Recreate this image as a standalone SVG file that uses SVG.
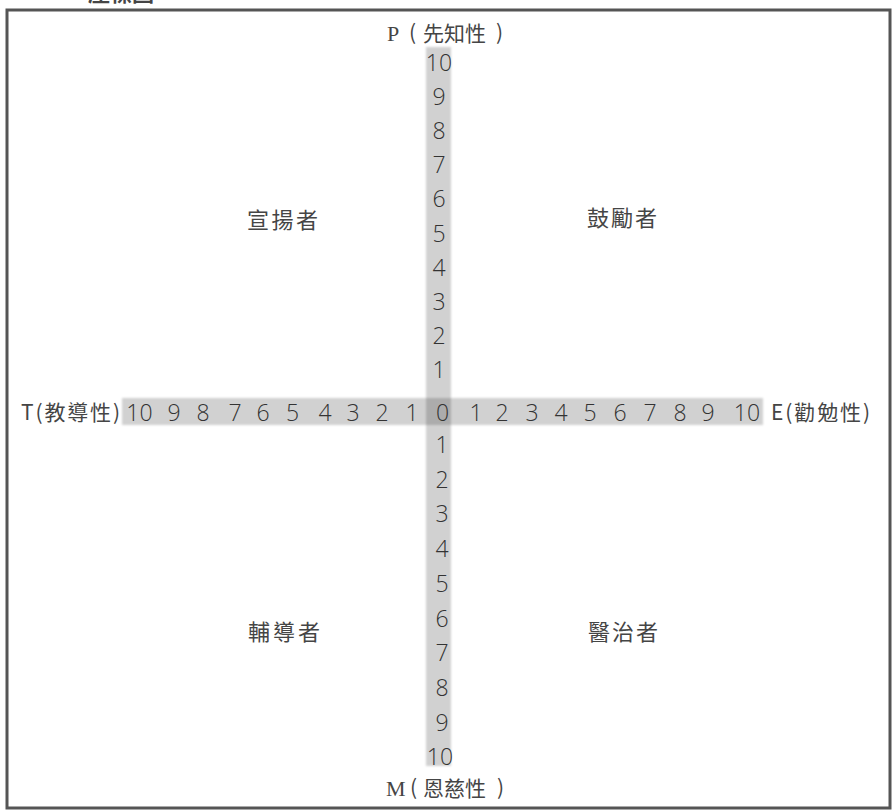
<svg xmlns="http://www.w3.org/2000/svg" width="895" height="811" viewBox="0 0 895 811">
<style>
.cjk{font-family:"Noto Sans CJK TC","Noto Sans CJK SC",sans-serif;fill:#454545;}
.ser{font-family:"Liberation Serif",serif;fill:#454545;}
.num{font-family:"Open Sans","Noto Sans",sans-serif;font-weight:300;font-size:23px;fill:#333;}
.v{text-anchor:middle;}
.lbl{font-size:22px;}
.band{fill:#000;fill-opacity:0.18;}
</style>
<defs>
<filter id="soft" x="-10%" y="-10%" width="120%" height="120%"><feGaussianBlur stdDeviation="1.2"/></filter>
</defs>
<rect width="895" height="811" fill="#fff"/>
<text class="cjk" x="88" y="1" font-size="22" font-weight="bold">座標圖</text>
<rect x="7" y="10" width="883" height="798" fill="none" stroke="#555" stroke-width="3"/>
<g id="bands" filter="url(#soft)">
<rect class="band" x="426" y="47" width="25" height="719"/>
<rect class="band" x="122" y="398" width="641" height="27"/>
</g>
<g id="axis-p">
<text class="ser" x="387" y="41" font-size="22">P</text>
<text class="cjk" x="409" y="40" font-size="21">(</text>
<text class="cjk" x="423" y="41" font-size="21">先知性</text>
<text class="cjk" x="496" y="40" font-size="21">)</text>
</g>
<g id="axis-m">
<text class="ser" x="386" y="796" font-size="22">M</text>
<text class="cjk" x="410" y="795" font-size="21">(</text>
<text class="cjk" x="423" y="796" font-size="21">恩慈性</text>
<text class="cjk" x="497" y="795" font-size="21">)</text>
</g>
<g id="axis-t"><text class="cjk" x="21" y="420" font-size="21" textLength="99" lengthAdjust="spacing">T(教導性)</text></g>
<g id="axis-e"><text class="cjk" x="771" y="420" font-size="21" textLength="99" lengthAdjust="spacing">E(勸勉性)</text></g>
<g id="vertical-numbers">
<text class="num v" x="439" y="71">10</text>
<text class="num v" x="439" y="105">9</text>
<text class="num v" x="439" y="139">8</text>
<text class="num v" x="439" y="173">7</text>
<text class="num v" x="439" y="207">6</text>
<text class="num v" x="439" y="242">5</text>
<text class="num v" x="439" y="276">4</text>
<text class="num v" x="439" y="310">3</text>
<text class="num v" x="439" y="344">2</text>
<text class="num v" x="439" y="378">1</text>
<text class="num v" x="442" y="453">1</text>
<text class="num v" x="442" y="488">2</text>
<text class="num v" x="442" y="522">3</text>
<text class="num v" x="442" y="557">4</text>
<text class="num v" x="442" y="592">5</text>
<text class="num v" x="442" y="627">6</text>
<text class="num v" x="442" y="661">7</text>
<text class="num v" x="442" y="696">8</text>
<text class="num v" x="442" y="731">9</text>
<text class="num v" x="440" y="765">10</text>
</g>
<g id="horizontal-numbers">
<text class="num v" x="139.5" y="421">10</text>
<text class="num v" x="174" y="421">9</text>
<text class="num v" x="203" y="421">8</text>
<text class="num v" x="235" y="421">7</text>
<text class="num v" x="263" y="421">6</text>
<text class="num v" x="292.5" y="421">5</text>
<text class="num v" x="325" y="421">4</text>
<text class="num v" x="353" y="421">3</text>
<text class="num v" x="382" y="421">2</text>
<text class="num v" x="412" y="421">1</text>
<text class="num v" x="442.5" y="421">0</text>
<text class="num v" x="476" y="421">1</text>
<text class="num v" x="502" y="421">2</text>
<text class="num v" x="532" y="421">3</text>
<text class="num v" x="561" y="421">4</text>
<text class="num v" x="590" y="421">5</text>
<text class="num v" x="620" y="421">6</text>
<text class="num v" x="650" y="421">7</text>
<text class="num v" x="680" y="421">8</text>
<text class="num v" x="708" y="421">9</text>
<text class="num v" x="747" y="421">10</text>
</g>
<g id="quadrant-propagator"><text class="cjk lbl" x="247" y="228" textLength="71" lengthAdjust="spacing">宣揚者</text></g>
<g id="quadrant-encourager"><text class="cjk lbl" x="587" y="226" textLength="70" lengthAdjust="spacing">鼓勵者</text></g>
<g id="quadrant-counselor"><text class="cjk lbl" x="248" y="640" textLength="72" lengthAdjust="spacing">輔導者</text></g>
<g id="quadrant-healer"><text class="cjk lbl" x="588" y="640" textLength="70" lengthAdjust="spacing">醫治者</text></g>
</svg>
